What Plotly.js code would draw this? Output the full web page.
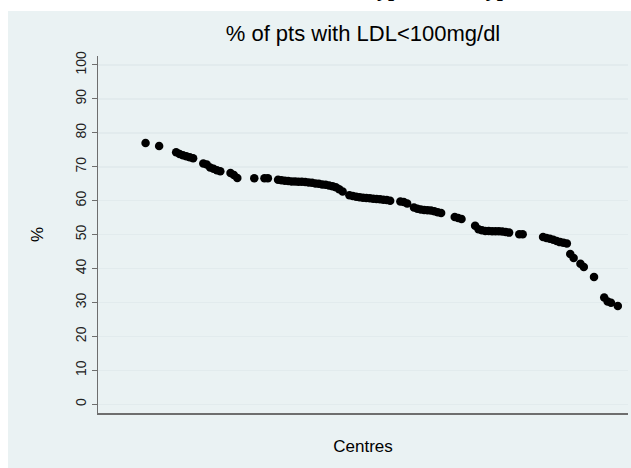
<!DOCTYPE html>
<html>
<head>
<meta charset="utf-8">
<script src="https://cdn.plot.ly/plotly-3.0.1.min.js"></script>
<style>
  html, body { margin: 0; padding: 0; background: #ffffff; }
  #chart { width: 631px; height: 468px; }
</style>
</head>
<body>
<div id="chart"></div>
<script>
// Centres ranked by their share of patients reaching the LDL target
const centreRank = [
  14, 18, 23, 24, 25, 26, 27, 28, 31, 32, 33, 34, 35, 36, 39, 40, 41, 46, 49, 50,
  53, 54, 55, 56, 57, 58, 59, 60, 61, 62, 63, 64, 65, 66, 67, 68, 69, 70, 71, 72,
  74, 75, 76, 77, 78, 79, 80, 81, 82, 83, 84, 85, 86,
  89, 90, 91, 93, 94, 95, 96, 97, 98, 99, 100, 101,
  105, 106, 107, 111, 112, 113, 114, 115, 116, 117, 118, 119, 120, 121,
  124, 125, 131, 132, 133, 134, 135, 136, 137, 138,
  139, 140, 142, 143, 146, 149, 150, 151, 153
];

// % of patients with LDL < 100 mg/dl in each centre
const pctLDL = [
  77.0, 76.1, 74.3, 73.8, 73.4, 73.1, 72.8, 72.5, 71.0, 70.7, 69.8, 69.4, 69.0, 68.7, 68.2, 67.6, 66.7, 66.6, 66.6, 66.6,
  66.2, 66.0, 65.9, 65.8, 65.7, 65.7, 65.6, 65.6, 65.5, 65.4, 65.3, 65.1, 65.0, 64.8, 64.7, 64.5, 64.3, 64.0, 63.4, 62.7,
  61.6, 61.4, 61.2, 61.0, 60.9, 60.8, 60.7, 60.6, 60.5, 60.4, 60.3, 60.2, 60.0,
  59.8, 59.6, 59.2, 58.0, 57.6, 57.4, 57.3, 57.2, 57.1, 56.9, 56.6, 56.4,
  55.2, 54.9, 54.6, 52.6, 51.6, 51.3, 51.1, 51.1, 51.0, 51.0, 51.0, 50.9, 50.8, 50.6,
  50.1, 50.1, 49.3, 49.0, 48.8, 48.5, 48.1, 47.8, 47.6, 47.4,
  44.3, 43.1, 41.4, 40.5, 37.5, 31.5, 30.3, 29.9, 29.0
];

const yTickVals = [0, 10, 20, 30, 40, 50, 60, 70, 80, 90, 100];
const yTickText = ['0', '10', '20', '30', '40', '50', '60', '70', '80', '90', '100'];

const chartTitle = '% of pts with LDL<100mg/dl';
const headingText = 'Type 1 and Type 2';
const xTitle = 'Centres';
const yTitle = '%';

const panelColor = '#eaf2f3';
const gridColor = '#e2ebed';

const trace = {
  type: 'scatter',
  mode: 'markers',
  x: centreRank,
  y: pctLDL,
  marker: { color: '#000000', size: 8.5, line: { width: 0 } },
  hoverinfo: 'x+y'
};

const layout = {
  width: 631,
  height: 468,
  margin: { l: 98, r: 3, t: 56, b: 55, pad: 0 },
  paper_bgcolor: '#ffffff',
  plot_bgcolor: '#ffffff',
  showlegend: false,
  font: { family: 'Liberation Sans, Arial, sans-serif', color: '#000000' },
  title: {
    text: chartTitle,
    font: { size: 22, color: '#000000', family: 'Liberation Sans, Arial, sans-serif' },
    xref: 'paper', x: 0.5, xanchor: 'center',
    yref: 'container', y: 1 - 33 / 468, yanchor: 'middle'
  },
  xaxis: {
    range: [0, 156],
    showgrid: false,
    zeroline: false,
    showticklabels: false,
    ticks: '',
    showline: true,
    linecolor: '#6e6e6e',
    linewidth: 2,
    title: { text: xTitle, font: { size: 17 }, standoff: 26 },
    fixedrange: true
  },
  yaxis: {
    range: [-2.56, 102.65],
    tickmode: 'array',
    tickvals: yTickVals,
    ticktext: yTickText,
    tickangle: -90,
    ticks: 'outside',
    ticklen: 5,
    tickwidth: 1,
    tickcolor: '#6e6e6e',
    tickfont: { size: 14, color: '#222222' },
    showgrid: true,
    gridcolor: gridColor,
    gridwidth: 1.5,
    zeroline: false,
    showline: true,
    linecolor: '#6e6e6e',
    linewidth: 1.5,
    title: { text: yTitle, font: { size: 17 }, standoff: 25 },
    fixedrange: true
  },
  shapes: [
    {
      type: 'rect', xref: 'paper', yref: 'paper', layer: 'below',
      x0: (8 - 98) / 530, x1: (640 - 98) / 530,
      y0: -(480 - 413) / 357, y1: 1 + (56 - 11) / 357,
      fillcolor: panelColor, line: { width: 0 }
    }
  ],
  annotations: [
    {
      // large heading above the panel; only its lower edge falls on the page
      text: '<b>' + headingText + '</b>',
      xref: 'paper', yref: 'paper',
      x: (362 - 98) / 530, xanchor: 'left',
      y: 1 + (56 - 3) / 357, yanchor: 'bottom',
      showarrow: false,
      font: { family: 'Liberation Serif, Times New Roman, serif', size: 22, color: '#000000' }
    }
  ]
};

Plotly.newPlot('chart', [trace], layout, { displayModeBar: false, staticPlot: true });
</script>
</body>
</html>
